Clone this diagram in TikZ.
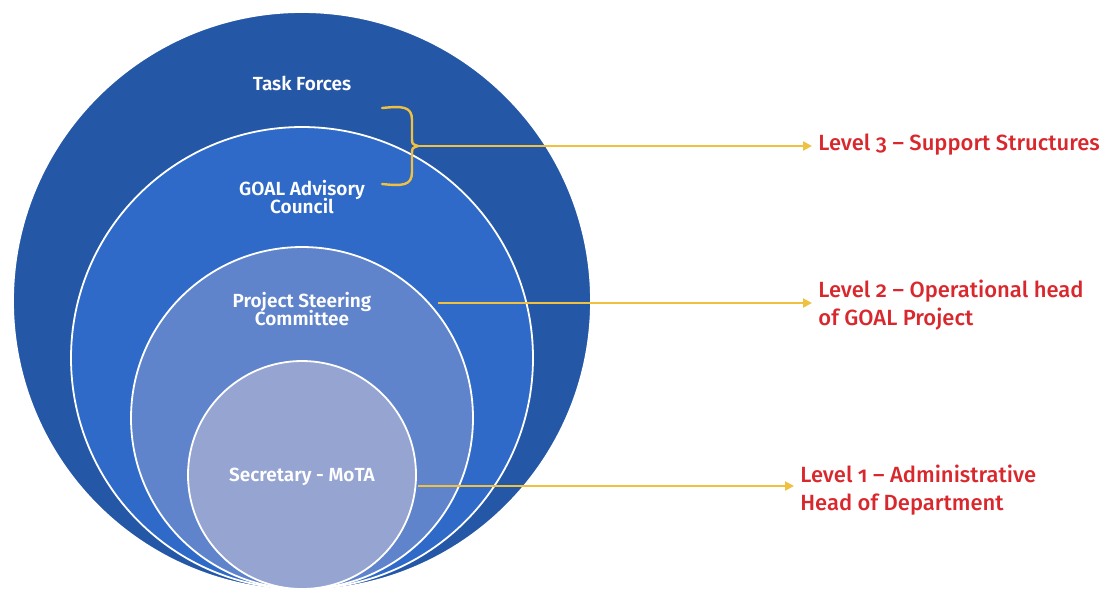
\documentclass[tikz,border=0pt]{standalone}
\usepackage{fontspec}
\usetikzlibrary{arrows.meta}
\newfontfamily\ringfont{Fira Sans SemiBold}
\newfontfamily\levelfont{Fira Sans Medium}[RawFeature=+onum]
\newcommand\ringtight{\lineskiplimit-5pt\relax}
\definecolor{ringA}{RGB}{37,87,167}
\definecolor{ringB}{RGB}{47,106,200}
\definecolor{ringC}{RGB}{96,132,203}
\definecolor{ringD}{RGB}{150,164,210}
\definecolor{levelred}{RGB}{217,40,45}
\definecolor{gold}{RGB}{240,192,64}

\begin{document}
\begin{tikzpicture}[x=0.5pt, y=-0.5pt]
        \tikzstyle{every node}=[inner sep=0pt]
        \tikzstyle{ring}=[circle, draw=white, line width=0.9pt]
        \tikzstyle{ringtext}=[text=white, align=center, font=\ringfont\fontsize{9.5}{9}\selectfont\ringtight]
        \tikzstyle{leveltext}=[text=levelred, align=left, anchor=west, inner sep=3pt, font=\levelfont\fontsize{11}{14}\selectfont]
        \tikzstyle{levelarrow}=[draw=gold, line width=1.2pt, -{Triangle[length=4.5pt,width=4.5pt]}]
        \useasboundingbox (0,0) rectangle (1106,591);
        % nested circles, all touching at the bottom
        \node [ring, fill=ringA, minimum size=289pt] (taskforces) at (302,301) {};
        \node [ring, fill=ringB, minimum size=231pt] (advisory) at (302,358) {};
        \node [ring, fill=ringC, minimum size=171pt] (steering) at (302,418) {};
        \node [ring, fill=ringD, minimum size=114pt] (secretary) at (302,475) {};
        \node [ringtext] (tftext) at (302,83) {Task Forces};
        \node [ringtext] (advtext) at (302,197) {GOAL Advisory\\Council};
        \node [ringtext] (psctext) at (302,309) {Project Steering\\Committee};
        \node [ringtext] (sectext) at (302,477) {Secretary - MoTA};
        % levels
        \node [leveltext] (lvl3) at (812,145) {Level 3 – Support Structures};
        \node [leveltext] (lvl2) at (812,305) {Level 2 – Operational head\\of GOAL Project};
        \node [leveltext] (lvl1) at (794,490) {Level 1 – Administrative\\Head of Department};
        \coordinate (bracetip) at (418,146);
        \coordinate (pscside) at (438,303);
        \coordinate (secside) at (418,486);
        \draw [gold, line width=1.2pt, line cap=round] (382,108) .. controls (402,106) and (412,106) .. (412,120) -- (412,138) .. controls (412,144) .. (bracetip) .. controls (412,148) .. (412,154) -- (412,172) .. controls (412,186) and (402,186) .. (382,184);
        \draw [levelarrow] (bracetip) -- (bracetip -| lvl3.west);
        \draw [levelarrow] (pscside) -- (pscside -| lvl2.west);
        \draw [levelarrow] (secside) -- (secside -| lvl1.west);
\end{tikzpicture}
\end{document}
